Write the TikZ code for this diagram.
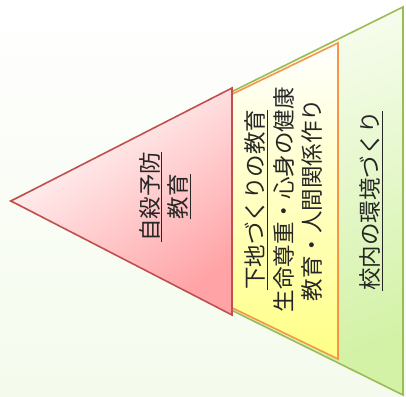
\documentclass[tikz,border=0pt]{standalone}
\usepackage{fontspec}
\newfontfamily\cjk{Noto Sans CJK JP}
\definecolor{gline}{HTML}{9BBB59}
\definecolor{oline}{HTML}{F79646}
\definecolor{rline}{HTML}{C0504D}
\definecolor{gfill}{HTML}{D3F2A6}
\definecolor{ofill}{HTML}{FFFF85}
\definecolor{rfill}{HTML}{FFA3A6}
\definecolor{bgpale}{HTML}{F4FBEC}
\definecolor{txt}{HTML}{262626}
\tikzset{
  tri/.style={line width=1.6pt, line join=miter},
  lbl/.style={rotate=90, align=center, inner sep=0pt, text=txt,
    font=\cjk\fontsize{22.5}{28.5}\selectfont},
}
\begin{document}
\begin{tikzpicture}[x=1pt,y=1pt]
\useasboundingbox (0,0) rectangle (406,396);
\shade[top color=white, bottom color=bgpale] (0,0) rectangle (406,396);
\coordinate (apex) at (11,195);
\coordinate (gT) at (403,389);
\coordinate (gB) at (403,1);
\coordinate (oT) at (338,353);
\coordinate (oB) at (338,37);
\coordinate (rT) at (232,308);
\coordinate (rB) at (232,81);
% green
\shade[top color=white, bottom color=gfill, shading angle=20] (apex) -- (gT) -- (gB) -- cycle;
\draw[tri, draw=gline] (apex) -- (gT) -- (gB) -- cycle;
% orange
\shade[top color=white, bottom color=ofill] (apex) -- (oT) -- (oB) -- cycle;
\draw[tri, draw=oline] (apex) -- (oT) -- (oB) -- cycle;
% red
\shade[top color=white, bottom color=rfill, shading angle=35] (apex) -- (rT) -- (rB) -- cycle;
\draw[tri, draw=rline] (apex) -- (rT) -- (rB) -- cycle;
% texts
\node[lbl] (t1) at (165,199) {\underline{自殺予防}\\\underline{教育}};
\node[lbl] (t2) at (283.5,196) {\underline{下地づくりの教育}\\生命尊重・心身の健康\\教育・人間関係作り};
\node[lbl] (t3) at (371,195) {\underline{校内の環境づくり}};
\end{tikzpicture}
\end{document}
